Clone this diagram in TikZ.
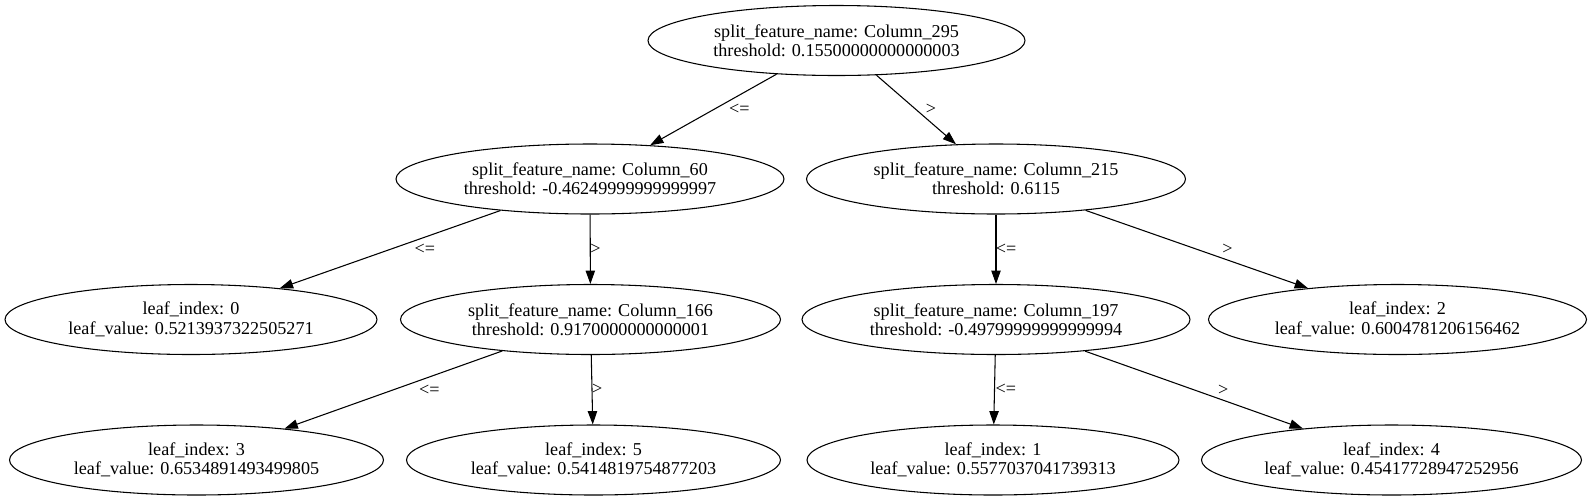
\documentclass[tikz,border=0pt]{standalone}
\usepackage{fontspec}
\setmainfont{Liberation Serif}
\usetikzlibrary{
	arrows.meta,
	shapes.geometric,
	positioning,
}

\begin{document}
\begin{tikzpicture}	[
				x=0.75pt,y=-0.75pt,
				every node/.style={align=center,font=\fontsize{13.6}{14.6}\selectfont},
				split/.style={ellipse,draw,line width=0.8pt,inner sep=0pt,minimum height=52.5pt},
				leaf/.style={split},
				branch/.style={-{Triangle[length=10pt,width=7pt]},line width=0.8pt},
				cond/.style={midway,inner sep=0pt},
			]
			\useasboundingbox (0,0) rectangle (1593,501);

			\node (root) [split,minimum width=282.75pt] at (836.5,40.5) {split\_feature\_name: Column\_295\\threshold: 0.15500000000000003};
			\node (c60) [split,minimum width=291pt] at (590,179) {split\_feature\_name: Column\_60\\threshold: -0.46249999999999997};
			\node (c215) [split,minimum width=284.25pt] at (996,179) {split\_feature\_name: Column\_215\\threshold: 0.6115};
			\node (leaf0) [leaf,minimum width=279pt] at (191,319.5) {leaf\_index: 0\\leaf\_value: 0.5213937322505271};
			\node (c166) [split,minimum width=285pt] at (590.5,319.5) {split\_feature\_name: Column\_166\\threshold: 0.9170000000000001};
			\node (c197) [split,minimum width=291pt] at (996,319.5) {split\_feature\_name: Column\_197\\threshold: -0.49799999999999994};
			\node (leaf2) [leaf,minimum width=283.5pt] at (1397.5,319.5) {leaf\_index: 2\\leaf\_value: 0.6004781206156462};
			\node (leaf3) [leaf,minimum width=280.5pt] at (196.5,460) {leaf\_index: 3\\leaf\_value: 0.6534891493499805};
			\node (leaf5) [leaf,minimum width=280.5pt] at (593.5,460) {leaf\_index: 5\\leaf\_value: 0.5414819754877203};
			\node (leaf1) [leaf,minimum width=279pt] at (993,460) {leaf\_index: 1\\leaf\_value: 0.5577037041739313};
			\node (leaf4) [leaf,minimum width=285pt] at (1391.5,460) {leaf\_index: 4\\leaf\_value: 0.45417728947252956};

			\draw[branch] (root) -- node[cond,xshift=19.5pt] {<=} (c60);
			\draw[branch] (root) -- node[cond,xshift=11pt] {>} (c215);
			\draw[branch] (c60) -- node[cond,xshift=26pt] {<=} (leaf0);
			\draw[branch] (c60) -- node[cond,xshift=4pt] {>} (c166);
			\draw[branch] (c215) -- node[cond,xshift=7.5pt] {<=} (c197);
			\draw[branch] (c215) -- node[cond,xshift=23pt] {>} (leaf2);
			\draw[branch] (c166) -- node[cond,xshift=27pt] {<=} (leaf3);
			\draw[branch] (c166) -- node[cond,xshift=4pt] {>} (leaf5);
			\draw[branch] (c197) -- node[cond,xshift=8.5pt] {<=} (leaf1);
			\draw[branch] (c197) -- node[cond,xshift=22pt] {>} (leaf4);
		\end{tikzpicture}
\end{document}
